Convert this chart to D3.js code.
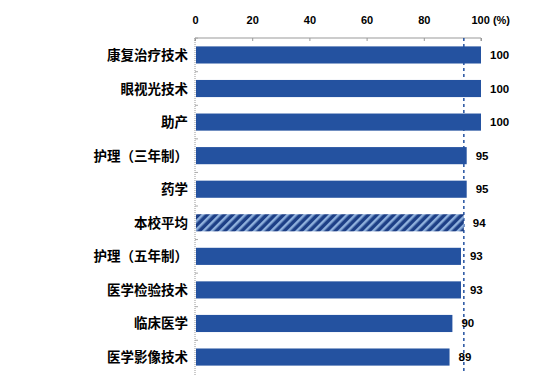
<!DOCTYPE html>
<html>
<head>
<meta charset="utf-8">
<script src="https://cdn.jsdelivr.net/npm/d3@7.9.0/dist/d3.min.js"></script>
<style>
  body { margin: 0; background: #fff; }
  text { font-family: "Liberation Sans", Arial, sans-serif; }
</style>
</head>
<body>
<svg id="chart" width="547" height="382"></svg>
<script>
const categories = ['康复治疗技术', '眼视光技术', '助产', '护理（三年制）', '药学', '本校平均', '护理（五年制）', '医学检验技术', '临床医学', '医学影像技术'];
const values = [100, 100, 100, 95, 95, 94, 93, 93, 90, 89];
const averageName = '本校平均';
const averageValue = 94;
const tickValues = [0, 20, 40, 60, 80, 100];

const svg = d3.select('#chart');
const blue = '#2452a0';

let x = d3.scaleLinear().domain([0, 100]).range([195, 481]);
let y = d3.scaleBand().domain(categories).range([38, 374]).paddingInner(0.49).paddingOuter(0.25);

// hatch pattern for average bar
const defs = svg.append('defs');
const pat = defs.append('pattern')
  .attr('id', 'hatch')
  .attr('patternUnits', 'userSpaceOnUse')
  .attr('width', 6).attr('height', 6)
  .attr('patternTransform', 'rotate(45)');
pat.append('rect').attr('width', 6).attr('height', 6).attr('fill', '#1d3f86');
pat.append('rect').attr('width', 2.5).attr('height', 6).attr('fill', '#8fb0dc');

// top axis
const axisTop = d3.axisTop(x).tickValues(tickValues).tickSize(-3).tickFormat(d => d);
const gx = svg.append('g').attr('transform', 'translate(0,38)').call(axisTop);
gx.select('.domain').attr('stroke', '#999').attr('d', 'M195,3V0H481V3');
gx.selectAll('.tick line').attr('stroke', '#999');
gx.selectAll('.tick text')
  .attr('y', -14)
  .attr('fill', '#000')
  .style('font-size', '11px')
  .style('font-weight', 'bold');
gx.selectAll('.tick').filter(d => d === 100).select('text')
  .text('100 (%)').attr('text-anchor', 'start').attr('dx', -10);

// left axis (dotted)
svg.append('line')
  .attr('x1', 195).attr('x2', 195).attr('y1', 38).attr('y2', 376)
  .attr('stroke', '#999').attr('stroke-dasharray', '1,1');
categories.forEach((c, i) => {
  const yy = y(c) - y.step() * y.paddingInner() / 2;
  svg.append('line')
    .attr('x1', 195).attr('x2', 198).attr('y1', yy).attr('y2', yy)
    .attr('stroke', '#aaa');
});

// average line (behind bars)
svg.append('line')
  .attr('x1', x(averageValue)).attr('x2', x(averageValue))
  .attr('y1', 38).attr('y2', 374)
  .attr('stroke', blue).attr('stroke-width', 1.5)
  .attr('stroke-dasharray', '3,3');

// bars
svg.append('g').selectAll('rect')
  .data(categories)
  .join('rect')
  .attr('x', x(0) + 1)
  .attr('y', d => y(d))
  .attr('height', y.bandwidth())
  .attr('width', (d, i) => x(values[i]) - x(0) - 1)
  .attr('fill', d => d === averageName ? 'url(#hatch)' : blue);

// value labels
svg.append('g').selectAll('text')
  .data(categories)
  .join('text')
  .attr('x', (d, i) => x(values[i]) + 9)
  .attr('y', d => y(d) + y.bandwidth() / 2 + 4)
  .style('font-size', '11.5px')
  .style('font-weight', 'bold')
  .text((d, i) => values[i]);

// category labels
svg.append('g').selectAll('text')
  .data(categories)
  .join('text')
  .attr('x', 188)
  .attr('y', d => y(d) + y.bandwidth() / 2 + 5)
  .attr('text-anchor', 'end')
  .style('font-family', '"Noto Sans CJK SC", sans-serif')
  .style('font-size', '13.5px')
  .style('font-weight', 'bold')
  .text(d => d);
</script>
</body>
</html>
